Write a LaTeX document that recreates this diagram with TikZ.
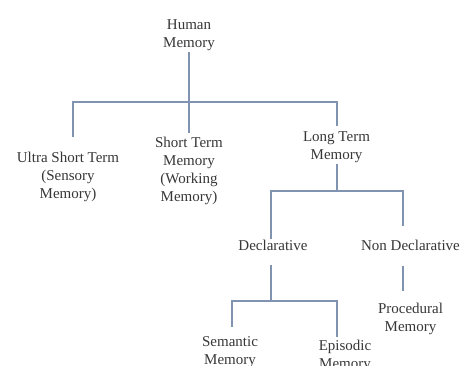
\documentclass[tikz,border=0pt]{standalone}
\usepackage{fontspec}
\setmainfont{Liberation Serif}
\definecolor{linecol}{RGB}{128,147,176}
\definecolor{txtcol}{RGB}{55,55,55}
\begin{document}
\begin{tikzpicture}[x=1pt,y=-1pt,
  lbl/.style={align=center,inner sep=1pt,text=txtcol,font=\fontsize{15}{18}\selectfont},
  conn/.style={draw=linecol,line width=1.1pt}]
\useasboundingbox[fill=white] (0,0) rectangle (460,365);
\node[lbl] (hm) at (189,35.5) {Human\\Memory};
\node[lbl] (usm) at (68,176.5) {Ultra Short Term\\(Sensory\\Memory)};
\node[lbl] (stm) at (189,170.5) {Short Term\\Memory\\(Working\\Memory)};
\node[lbl] (ltm) at (336.5,147.5) {Long Term\\Memory};
\node[lbl] (dec) at (273,245) {Declarative};
\node[lbl] (nd) at (410.5,245) {Non Declarative};
\node[lbl] (proc) at (410.5,318.5) {Procedural\\Memory};
\node[lbl] (sem) at (230,352.5) {Semantic\\Memory};
\node[lbl] (epi) at (345,355.5) {Episodic\\Memory};
\coordinate (j1) at (189,102);
\coordinate (j2) at (337,191);
\coordinate (j3) at (271,301);
\draw[conn] (hm) -- ([yshift=2pt]stm.north);
\draw[conn] ([xshift=5pt,yshift=13.5pt]usm.north) |- (j1) -| ([xshift=0.5pt,yshift=5pt]ltm.north);
\draw[conn] ([xshift=0.5pt]ltm.south) -- (j2);
\draw[conn] ([xshift=-2pt]dec.north) |- (j2) -| ([xshift=-7.5pt,yshift=13pt]nd.north);
\draw[conn] ([xshift=-2pt,yshift=-14pt]dec.south) -- (j3);
\draw[conn] ([xshift=2pt,yshift=9pt]sem.north) |- (j3) -| ([xshift=-8pt,yshift=1pt]epi.north);
\draw[conn] ([xshift=-7.5pt,yshift=-15pt]nd.south) -- ([xshift=-7.5pt,yshift=10pt]proc.north);
\end{tikzpicture}
\end{document}
